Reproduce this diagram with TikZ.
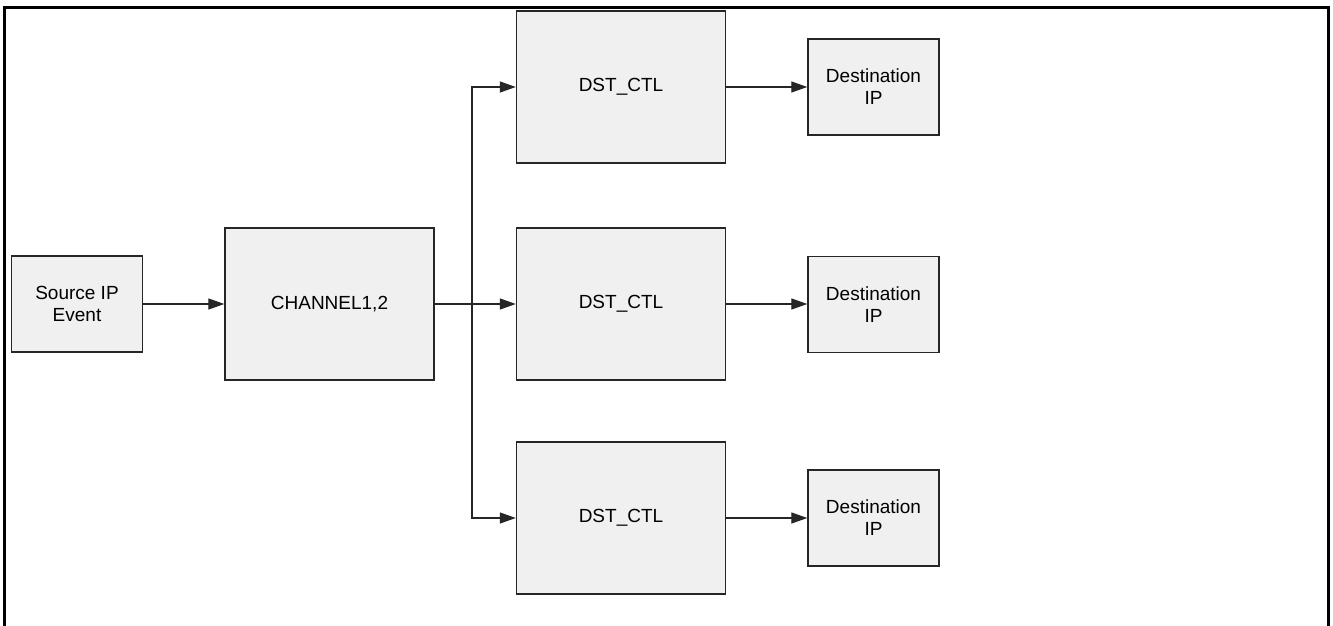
\documentclass[tikz,border=0pt]{standalone}
\usepackage{fontspec}
\setmainfont{Liberation Sans}
\usetikzlibrary{arrows.meta}
\definecolor{boxfill}{HTML}{F0F0F0}
\begin{document}
\begin{tikzpicture}[x=1pt,y=-1pt,
  box/.style={draw=black!85, line width=1.4pt, fill=boxfill, font=\fontsize{19}{22}\selectfont, align=center, inner sep=0pt},
  small/.style={box, minimum width=131pt, minimum height=96pt},
  big/.style={box, minimum width=209pt, minimum height=152pt},
  conn/.style={line width=1.3pt, draw=black!85, -{Triangle[length=16pt,width=11pt]}}]
\useasboundingbox (0,0) rectangle (1333,626);
\draw[line width=3pt] (4.5,8) rectangle (1328,629);
\node[small] (src) at (77,304) {Source IP\\Event};
\node[big] (chan) at (329.5,304) {CHANNEL1,2};
\node[big] (dst1) at (621,87) {DST\_CTL};
\node[big] (dst2) at (621,304) {DST\_CTL};
\node[big] (dst3) at (621,518) {DST\_CTL};
\node[small] (ip1) at (873.5,87) {Destination\\IP};
\node[small] (ip2) at (873.5,304.5) {Destination\\IP};
\node[small] (ip3) at (873.5,518) {Destination\\IP};
\coordinate (j) at (472,304);
\draw[conn] (src) -- (chan);
\draw[conn] (chan.east) -- (dst2.west);
\draw[conn] (j) |- (dst1.west);
\draw[conn] (j) |- (dst3.west);
\draw[conn] (dst1) -- (ip1);
\draw[conn] (dst2.east) -- (dst2.east -| ip2.west);
\draw[conn] (dst3) -- (ip3);
\end{tikzpicture}
\end{document}
